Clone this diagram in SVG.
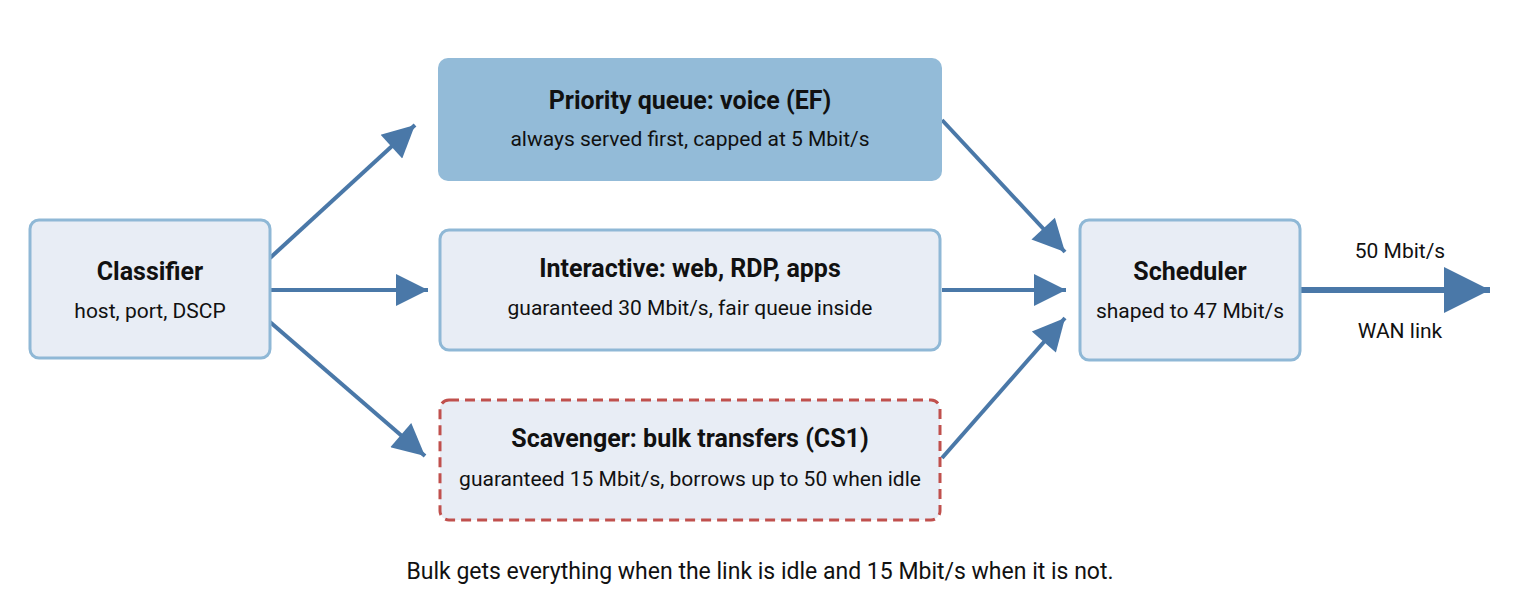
<svg xmlns="http://www.w3.org/2000/svg" width="1520" height="600" viewBox="0 0 1520 600">
<style>
.box{fill:#e8edf5;stroke:#8fb8d6;stroke-width:3}
.t{font-family:Roboto,"Liberation Sans",sans-serif;font-size:25px;font-weight:bold;fill:#111;text-anchor:middle}
.s{font-family:Roboto,"Liberation Sans",sans-serif;font-size:21px;fill:#111;text-anchor:middle}
.c{stroke:#4a78a8;stroke-width:4;fill:none}
</style>
<defs>
<marker id="a" viewBox="0 0 10 10" refX="10" refY="5" markerWidth="36" markerHeight="32" markerUnits="userSpaceOnUse" orient="auto"><path d="M0,0L10,5L0,10z" fill="#4a78a8"/></marker>
<marker id="b" viewBox="0 0 10 10" refX="10" refY="5" markerWidth="60" markerHeight="46" markerUnits="userSpaceOnUse" orient="auto"><path d="M0,0L10,5L0,10z" fill="#4a78a8"/></marker>
</defs>
<rect width="1520" height="600" fill="#fff"/>
<g id="connectors">
<line class="c" x1="270" y1="258" x2="415" y2="125" marker-end="url(#a)"/>
<line class="c" x1="270" y1="290" x2="428" y2="290" marker-end="url(#a)"/>
<line class="c" x1="270" y1="322" x2="425" y2="456" marker-end="url(#a)"/>
<line class="c" x1="942" y1="120" x2="1065" y2="252" marker-end="url(#a)"/>
<line class="c" x1="942" y1="290" x2="1066" y2="290" marker-end="url(#a)"/>
<line class="c" x1="942" y1="458" x2="1065" y2="318" marker-end="url(#a)"/>
<line class="c" style="stroke-width:6" x1="1300" y1="290" x2="1490" y2="290" marker-end="url(#b)"/>
</g>
<g id="classifier"><rect class="box" x="30" y="220" width="240" height="138" rx="9"/>
<text class="t" x="150" y="280">Classifier</text><text class="s" x="150" y="318">host, port, DSCP</text></g>
<g id="priority"><rect x="438" y="58" width="504" height="123" rx="10" fill="#93bbd8"/>
<text class="t" x="690" y="109">Priority queue: voice (EF)</text><text class="s" x="690" y="146">always served first, capped at 5 Mbit/s</text></g>
<g id="interactive"><rect class="box" x="440" y="230" width="500" height="120" rx="9"/>
<text class="t" x="690" y="277">Interactive: web, RDP, apps</text><text class="s" x="690" y="315">guaranteed 30 Mbit/s, fair queue inside</text></g>
<g id="scavenger"><rect x="440" y="400" width="500" height="120" rx="9" fill="#e8edf5" stroke="#c0504d" stroke-width="3" stroke-dasharray="10 6"/>
<text class="t" x="690" y="447">Scavenger: bulk transfers (CS1)</text><text class="s" x="690" y="486">guaranteed 15 Mbit/s, borrows up to 50 when idle</text></g>
<g id="scheduler"><rect class="box" x="1080" y="220" width="220" height="140" rx="9"/>
<text class="t" x="1190" y="280">Scheduler</text><text class="s" x="1190" y="318">shaped to 47 Mbit/s</text></g>
<text class="s" x="1400" y="258">50 Mbit/s</text>
<text class="s" x="1400" y="338">WAN link</text>
<text class="s" x="760" y="579" style="font-size:23px">Bulk gets everything when the link is idle and 15 Mbit/s when it is not.</text>
</svg>
